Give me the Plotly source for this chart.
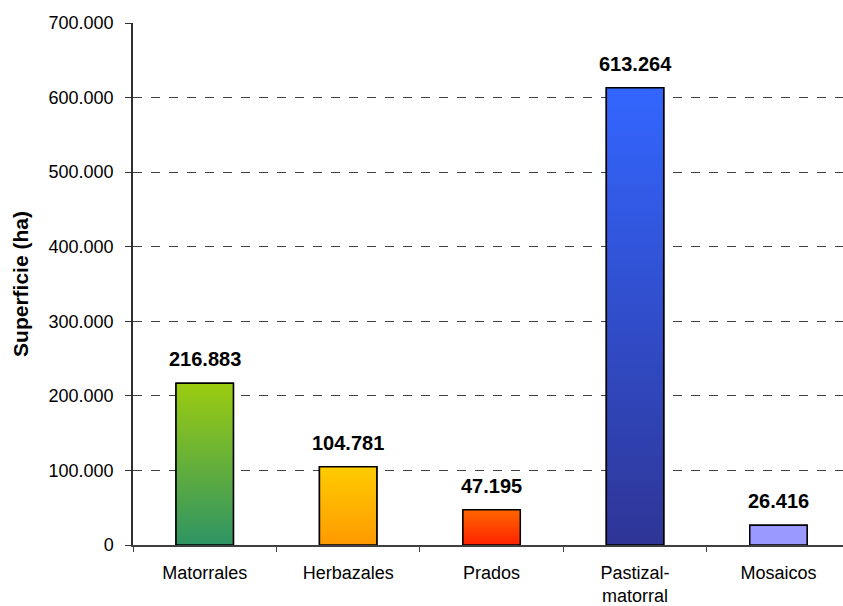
import plotly.graph_objects as go

categories = ["Matorrales", "Herbazales", "Prados", "Pastizal-<br>matorral", "Mosaicos"]
values = [216883, 104781, 47195, 613264, 26416]
top_colors = ["#9ccc10", "#ffcc00", "#ff6600", "#3366ff", "#9999ff"]
bottom_colors = ["#2e9464", "#ff9900", "#ff2200", "#2e3596", "#9999ff"]
ytick_vals = [0, 100000, 200000, 300000, 400000, 500000, 600000, 700000]

BAR_W = 0.4
FONT = "Liberation Sans, Arial, sans-serif"
XRANGE = [-0.5, 4.45]

fig = go.Figure()

# base bar trace (categorical)
fig.add_trace(go.Bar(
    x=categories, y=values, width=BAR_W,
    marker=dict(color=top_colors, line=dict(color="black", width=1.5)),
    hoverinfo="skip", showlegend=False,
))

# gradient overlays on a matching linear axis
for i, v in enumerate(values):
    xs = [i - BAR_W / 2, i + BAR_W / 2, i + BAR_W / 2, i - BAR_W / 2, i - BAR_W / 2]
    ys = [0, 0, v, v, 0]
    fig.add_trace(go.Scatter(
        x=xs, y=ys, xaxis="x2", mode="lines", fill="toself",
        fillgradient=dict(type="vertical",
                          colorscale=[[0, bottom_colors[i]], [1, top_colors[i]]]),
        line=dict(color="black", width=1.5),
        hoverinfo="skip", showlegend=False,
    ))

# value labels
for c, v in zip(categories, values):
    fig.add_annotation(
        x=c, y=v, xref="x", yref="y", text="<b>" + f"{v:,}".replace(",", ".") + "</b>",
        showarrow=False, yanchor="bottom", yshift=11,
        font=dict(family=FONT, size=20, color="black"),
    )

fig.update_layout(
    width=843, height=606,
    margin=dict(l=133, r=0, t=23, b=61, autoexpand=False),
    paper_bgcolor="white", plot_bgcolor="white",
    separators=",.",
    font=dict(family=FONT, size=18, color="black"),
    xaxis=dict(
        type="category", showline=True, linecolor="#404040", linewidth=2,
        ticks="outside", tickson="boundaries", ticklen=5, tickcolor="#404040",
        tickfont=dict(family=FONT, size=18), showgrid=False, range=XRANGE,
        ticklabelstandoff=10, automargin=False,
    ),
    xaxis2=dict(
        overlaying="x", range=XRANGE, visible=False, showgrid=False,
    ),
    yaxis=dict(
        range=[0, 700000], tickvals=ytick_vals, tickformat=",.0f",
        showline=True, linecolor="#303030", linewidth=1.5,
        ticks="outside", ticklen=6, tickcolor="#303030",
        tickfont=dict(family=FONT, size=18), ticklabelstandoff=8,
        showgrid=True, gridcolor="#404040", gridwidth=1, griddash="dash",
        zeroline=False, automargin=False,
        title=dict(text="<b>Superficie (ha)</b>", font=dict(family=FONT, size=21), standoff=14),
    ),
)

fig.write_html("out.html", config={"displayModeBar": False},
               post_script="document.body.style.margin='0px';")
